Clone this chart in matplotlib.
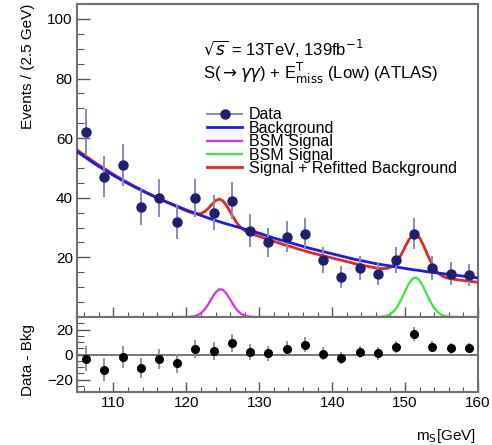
import numpy as np
import matplotlib
matplotlib.use('Agg')
import matplotlib.pyplot as plt
from matplotlib.ticker import MultipleLocator
from matplotlib.lines import Line2D

plt.rcParams['font.family'] = ['Liberation Sans', 'DejaVu Sans']

# ---- data ----
bin_centers = np.arange(106.25, 160, 2.5)
events = [62, 47, 51, 37, 40, 32, 40, 35, 39, 29, 25, 27, 28, 19, 13.5,
          16.5, 14.5, 19, 28, 16.5, 14.5, 14]
events_err = [7.9, 6.9, 7.1, 6.1, 6.3, 5.7, 6.3, 5.9, 6.2, 5.4, 5.0, 5.2,
              5.3, 4.4, 3.7, 4.1, 3.8, 4.4, 5.3, 4.1, 3.8, 3.7]

# data - background (lower panel)
diff = [-3.5, -12, -2, -11, -3.5, -7, 4.5, 2.7, 9.3, 2.1, 1, 4.8, 8, 0.8,
        -2.7, 1.9, 1, 6, 16.3, 6.4, 5, 5]
diff_err = [10, 9.5, 9, 8, 8, 7.5, 7.5, 7, 7, 6.5, 6, 6, 6, 5.5, 5, 5, 5,
            5, 5.5, 4.5, 4.5, 4]

# background fit, 1 GeV steps from 105 to 160
bkg_x = np.arange(105, 160.5, 1.0)
bkg = [55.5, 53.8, 52.1, 50.5, 49.0, 47.5, 46.1, 44.8, 43.5, 42.3,
       41.1, 40.0, 38.9, 37.9, 36.9, 35.9, 35.0, 34.1, 33.2, 32.4,
       31.6, 30.9, 30.2, 29.5, 28.8, 28.1, 27.3, 26.5, 25.8, 25.1,
       24.4, 23.7, 23.0, 22.4, 21.8, 21.2, 20.6, 20.0, 19.4, 18.9,
       18.4, 17.9, 17.5, 17.1, 16.7, 16.3, 15.9, 15.6, 15.2, 14.9,
       14.6, 14.3, 14.0, 13.7, 13.4, 13.1]

# signal + refitted background, 0.5 GeV steps from 105 to 160
sb_x = np.arange(105, 160.25, 0.5)
sb = [56.1, 55.2, 54.35, 53.5, 52.6, 51.8, 50.95, 50.2, 49.4, 48.6,
      47.85, 47.1, 46.4, 45.7, 45.05, 44.4, 43.7, 43.1, 42.45, 41.8,
      41.2, 40.6, 40.0, 39.45, 38.87, 38.3, 37.8, 37.25, 36.7, 36.15,
      35.62, 35.17, 34.79, 34.6, 34.72, 35.32, 36.39, 37.79, 39.03, 39.55,
      39.0, 37.48, 35.35, 33.16, 31.31, 29.95, 29.02, 28.37, 27.87, 27.44,
      27.05, 26.6, 26.2, 25.8, 25.35, 25.0, 24.6, 24.2, 23.85, 23.5,
      23.1, 22.7, 22.35, 22.0, 21.64, 21.3, 21.03, 20.7, 20.41, 20.1,
      19.8, 19.5, 19.19, 18.9, 18.58, 18.3, 17.97, 17.7, 17.46, 17.2,
      16.95, 16.7, 16.47, 16.31, 16.23, 16.31, 16.68, 17.52, 18.98, 21.06,
      23.52, 25.84, 27.38, 27.67, 26.52, 24.19, 21.33, 18.63, 16.43, 14.88,
      13.9, 13.32, 12.97, 12.74, 12.55, 12.4, 12.25, 12.1, 11.95, 11.8,
      11.65]

# BSM signal shapes
sig1_x = np.arange(116, 132.75, 0.5)
sig1 = [0, 0, 0, 0, 0, 0, 0,
        0.01, 0.02, 0.07, 0.22, 0.57, 1.27, 2.49, 4.25, 6.33, 8.22, 9.30,
        9.17, 7.89, 5.91, 3.86, 2.20, 1.09, 0.47, 0.18, 0.06, 0.02, 0.0,
        0, 0, 0, 0, 0]
sig2_x = np.arange(141.5, 160.25, 0.5)
sig2 = [0, 0, 0, 0, 0, 0, 0, 0, 0,
        0.02, 0.06, 0.18, 0.45, 1.02, 2.05, 3.70, 5.96, 8.61, 11.11, 12.83,
        13.27, 12.28, 10.16, 7.53, 4.99, 2.96, 1.57, 0.75, 0.32, 0.12, 0.04,
        0.01,
        0, 0, 0, 0, 0, 0]

navy = '#1f1f70'
lavender = '#8a8ab8'
c_bkg = '#1c1ce6'
c_sb = '#e8261e'
c_sig1 = '#e02ee0'
c_sig2 = '#3ce83c'
frame = '#707070'

fig = plt.figure(figsize=(4.92, 4.45), dpi=100)
ax = fig.add_axes([0.1565, 0.2876, 0.815, 0.7034])
rax = fig.add_axes([0.1565, 0.1191, 0.815, 0.1685], sharex=ax)

ax.plot(sig1_x, sig1, color=c_sig1, lw=1.6, zorder=3, clip_on=False)
ax.plot(sig2_x, sig2, color=c_sig2, lw=1.6, zorder=3, clip_on=False)
ax.plot(sb_x, sb, color=c_sb, lw=2.0, zorder=3)
ax.plot(bkg_x, bkg, color=c_bkg, lw=2.0, zorder=3)
ax.errorbar(bin_centers, events, yerr=events_err, fmt='o', color=navy,
            ecolor=lavender, elinewidth=1.4, ms=6.5, zorder=5)

ax.set_xlim(105, 160)
ax.set_ylim(0, 105)
ax.set_yticks([20, 40, 60, 80, 100])
ax.yaxis.set_minor_locator(MultipleLocator(5))
ax.xaxis.set_major_locator(MultipleLocator(10))
ax.xaxis.set_minor_locator(MultipleLocator(2))
ax.set_ylabel('Events / (2.5 GeV)', fontsize=11)
ax.yaxis.set_label_coords(-0.105, 0.8)

ax.text(0.314, 0.858, r'$\sqrt{s}$ = 13TeV, 139fb$^{-1}$', transform=ax.transAxes,
        fontsize=12, va='center', ha='left')
ax.text(0.314, 0.777, r'S($\rightarrow\gamma\gamma$) + E$^{\mathrm{T}}_{\mathrm{miss}}$ (Low) (ATLAS)',
        transform=ax.transAxes, fontsize=12, va='center', ha='left')

handles = [
    Line2D([], [], color=lavender, lw=1.4, marker='o', ms=6.5,
           markerfacecolor=navy, markeredgecolor=navy),
    Line2D([], [], color=c_bkg, lw=2.0),
    Line2D([], [], color=c_sig1, lw=1.6),
    Line2D([], [], color=c_sig2, lw=1.6),
    Line2D([], [], color=c_sb, lw=2.0),
]
labels = ['Data', 'Background', 'BSM Signal', 'BSM Signal', 'Signal + Refitted Background']
ax.legend(handles, labels, loc='upper left', bbox_to_anchor=(0.325, 0.67),
          frameon=False, fontsize=11.5, labelspacing=-0.1, handlelength=2.2,
          handletextpad=0.4, borderpad=0, borderaxespad=0)

rax.errorbar(bin_centers, diff, yerr=diff_err, fmt='o', color='black',
             ecolor='#8c8c8c', elinewidth=1.3, ms=5.5, zorder=5)
rax.axhline(0, color='#606060', lw=1.2, zorder=2)
rax.set_ylim(-30, 30)
rax.set_yticks([-20, 0, 20])
rax.set_yticklabels(['\u221220', '0', '20'])
rax.yaxis.set_minor_locator(MultipleLocator(5))
rax.set_ylabel('Data - Bkg', fontsize=11)
rax.yaxis.set_label_coords(-0.105, 0.43)
rax.set_xticks([110, 120, 130, 140, 150, 160])
rax.set_xlabel(r'm$_{\mathrm{S}}$[GeV]', fontsize=11, ha='right', va='top')
rax.xaxis.set_label_coords(0.995, -0.47)

for a in (ax, rax):
    a.tick_params(which='both', direction='in', top=False, right=False,
                  color='#555555', labelsize=11, pad=3)
    a.tick_params(axis='y', which='major', length=9, width=1)
    a.tick_params(axis='y', which='minor', length=5, width=0.8)
    a.tick_params(axis='x', which='major', length=7, width=1)
    a.tick_params(axis='x', which='minor', length=3.5, width=0.8)
    for s in a.spines.values():
        s.set_color(frame)
        s.set_linewidth(1.5)
ax.tick_params(labelbottom=False)

fig.savefig('out.png', dpi=100)
